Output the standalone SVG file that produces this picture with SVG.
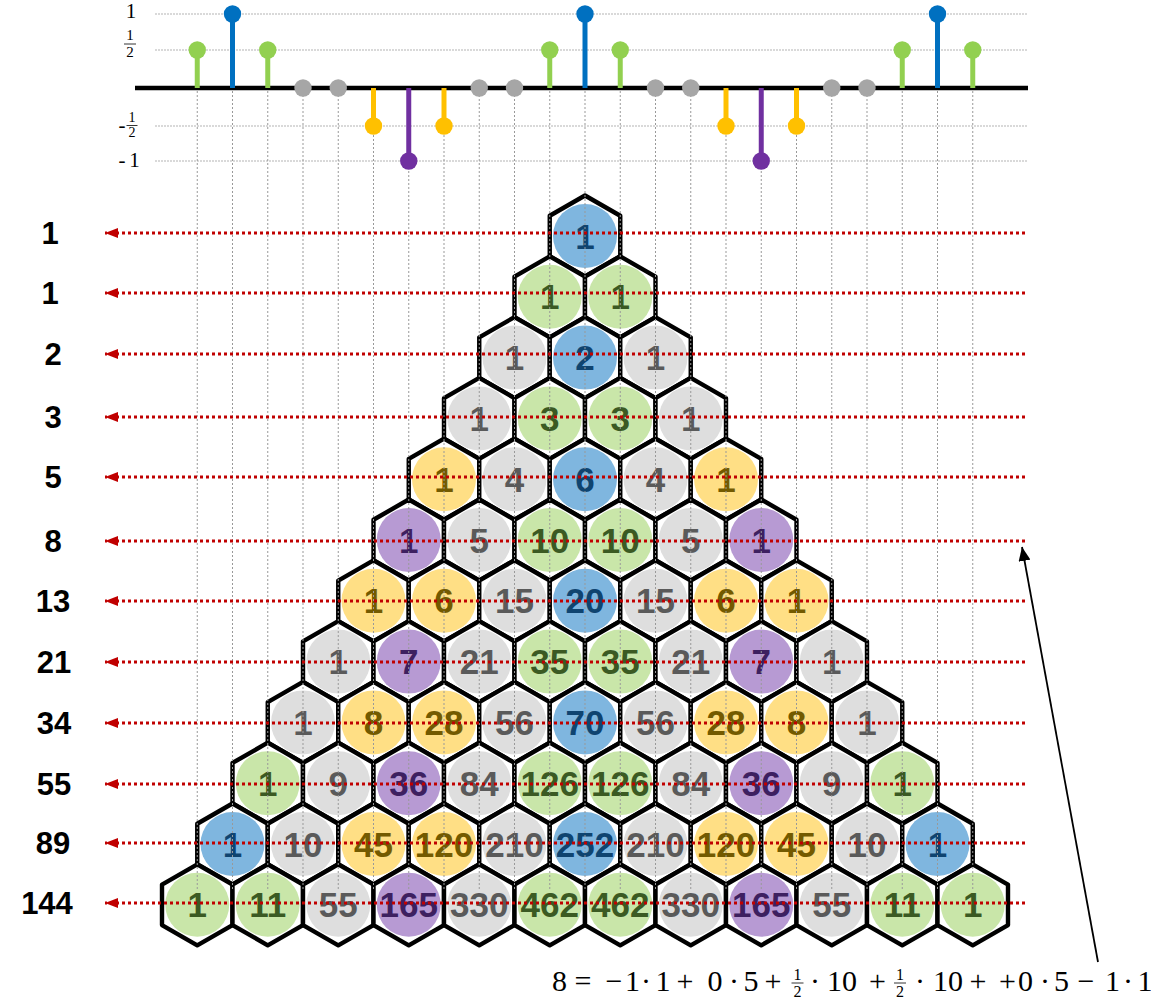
<svg xmlns="http://www.w3.org/2000/svg" xmlns:xlink="http://www.w3.org/1999/xlink" width="1151" height="1002" viewBox="0 0 1151 1002">
<defs>
<style>
.hex{fill:#fff;stroke:#000;stroke-width:4.4;stroke-linejoin:round}
.cell text{font-family:"Liberation Sans",Arial,sans-serif;font-weight:bold;font-size:35px;text-anchor:middle}
.b circle{fill:#7fb6df}.b text{fill:#0f4470}
.g circle{fill:#c9e6a9}.g text{fill:#3b5a23}
.n circle{fill:#dedede}.n text{fill:#5a5a5a}
.y circle{fill:#ffdf85}.y text{fill:#735a00}
.p circle{fill:#b79ad3}.p text{fill:#3d2060}
.vg{stroke:#999;stroke-width:1;stroke-dasharray:2 2}
.hg{stroke:#b4b4b4;stroke-width:1.2;stroke-dasharray:2 1}
.red{stroke:#c00000;stroke-width:3;stroke-dasharray:3 3;fill:none;marker-end:url(#ra)}
.lbl{font-family:"Liberation Sans",Arial,sans-serif;font-weight:bold;font-size:31px;text-anchor:middle;fill:#000}
.ser{font-family:"Liberation Serif","Times New Roman",serif;fill:#000;text-anchor:middle}
.sg{stroke:#92d050;stroke-width:5}.cg{fill:#92d050}
.sb{stroke:#0070c0;stroke-width:5}.cbl{fill:#0070c0}
.sy{stroke:#ffc000;stroke-width:5}.cy{fill:#ffc000}
.sp{stroke:#7030a0;stroke-width:5}.cp{fill:#7030a0}
.cn{fill:#a6a6a6}
</style>
<polygon id="hx" points="0,-40.5 35.25,-20.25 35.25,20.25 0,40.5 -35.25,20.25 -35.25,-20.25"/>
<marker id="ra" markerUnits="userSpaceOnUse" markerWidth="13" markerHeight="10" refX="13" refY="5" orient="auto"><path d="M0,0 L13,5 L0,10 z" fill="#c00000"/></marker>
<marker id="ka" markerUnits="userSpaceOnUse" markerWidth="14" markerHeight="12" refX="14" refY="6" orient="auto"><path d="M0,0 L14,6 L0,12 z" fill="#000"/></marker>
</defs>
<rect width="1151" height="1002" fill="#fff"/>

<!-- stem plot grid -->
<g id="stem-grid">
<line class="hg" x1="155" y1="14" x2="1028" y2="14"/>
<line class="hg" x1="155" y1="50" x2="1028" y2="50"/>
<line class="hg" x1="155" y1="126" x2="1028" y2="126"/>
<line class="hg" x1="155" y1="161" x2="1028" y2="161"/>
</g>
<g id="stem-labels">
<text class="ser" x="131" y="18" font-size="21">1</text>
<text class="ser" x="130" y="40" font-size="15">1</text>
<line x1="124" y1="44" x2="136" y2="44" stroke="#000" stroke-width="0.8"/>
<text class="ser" x="130" y="57" font-size="15">2</text>
<text class="ser" x="122" y="132" font-size="21">-</text>
<text class="ser" x="132" y="122" font-size="14">1</text>
<line x1="126.5" y1="125.5" x2="137.5" y2="125.5" stroke="#000" stroke-width="0.8"/>
<text class="ser" x="132" y="137" font-size="14">2</text>
<text class="ser" x="122" y="167" font-size="21">-</text>
<text class="ser" x="134.5" y="167" font-size="21">1</text>
</g>

<!-- hex cells -->
<g id="cells">
<g id="c0_0" class="cell b" transform="translate(585,236)"><use xlink:href="#hx" class="hex"/><circle r="32"/><text y="12.5">1</text></g>
<g id="c1_0" class="cell g" transform="translate(549.75,296.8)"><use xlink:href="#hx" class="hex"/><circle r="32"/><text y="12.5">1</text></g>
<g id="c1_1" class="cell g" transform="translate(620.25,296.8)"><use xlink:href="#hx" class="hex"/><circle r="32"/><text y="12.5">1</text></g>
<g id="c2_0" class="cell n" transform="translate(514.5,357.6)"><use xlink:href="#hx" class="hex"/><circle r="32"/><text y="12.5">1</text></g>
<g id="c2_1" class="cell b" transform="translate(585,357.6)"><use xlink:href="#hx" class="hex"/><circle r="32"/><text y="12.5">2</text></g>
<g id="c2_2" class="cell n" transform="translate(655.5,357.6)"><use xlink:href="#hx" class="hex"/><circle r="32"/><text y="12.5">1</text></g>
<g id="c3_0" class="cell n" transform="translate(479.25,418.4)"><use xlink:href="#hx" class="hex"/><circle r="32"/><text y="12.5">1</text></g>
<g id="c3_1" class="cell g" transform="translate(549.75,418.4)"><use xlink:href="#hx" class="hex"/><circle r="32"/><text y="12.5">3</text></g>
<g id="c3_2" class="cell g" transform="translate(620.25,418.4)"><use xlink:href="#hx" class="hex"/><circle r="32"/><text y="12.5">3</text></g>
<g id="c3_3" class="cell n" transform="translate(690.75,418.4)"><use xlink:href="#hx" class="hex"/><circle r="32"/><text y="12.5">1</text></g>
<g id="c4_0" class="cell y" transform="translate(444,479.2)"><use xlink:href="#hx" class="hex"/><circle r="32"/><text y="12.5">1</text></g>
<g id="c4_1" class="cell n" transform="translate(514.5,479.2)"><use xlink:href="#hx" class="hex"/><circle r="32"/><text y="12.5">4</text></g>
<g id="c4_2" class="cell b" transform="translate(585,479.2)"><use xlink:href="#hx" class="hex"/><circle r="32"/><text y="12.5">6</text></g>
<g id="c4_3" class="cell n" transform="translate(655.5,479.2)"><use xlink:href="#hx" class="hex"/><circle r="32"/><text y="12.5">4</text></g>
<g id="c4_4" class="cell y" transform="translate(726,479.2)"><use xlink:href="#hx" class="hex"/><circle r="32"/><text y="12.5">1</text></g>
<g id="c5_0" class="cell p" transform="translate(408.75,540)"><use xlink:href="#hx" class="hex"/><circle r="32"/><text y="12.5">1</text></g>
<g id="c5_1" class="cell n" transform="translate(479.25,540)"><use xlink:href="#hx" class="hex"/><circle r="32"/><text y="12.5">5</text></g>
<g id="c5_2" class="cell g" transform="translate(549.75,540)"><use xlink:href="#hx" class="hex"/><circle r="32"/><text y="12.5">10</text></g>
<g id="c5_3" class="cell g" transform="translate(620.25,540)"><use xlink:href="#hx" class="hex"/><circle r="32"/><text y="12.5">10</text></g>
<g id="c5_4" class="cell n" transform="translate(690.75,540)"><use xlink:href="#hx" class="hex"/><circle r="32"/><text y="12.5">5</text></g>
<g id="c5_5" class="cell p" transform="translate(761.25,540)"><use xlink:href="#hx" class="hex"/><circle r="32"/><text y="12.5">1</text></g>
<g id="c6_0" class="cell y" transform="translate(373.5,600.8)"><use xlink:href="#hx" class="hex"/><circle r="32"/><text y="12.5">1</text></g>
<g id="c6_1" class="cell y" transform="translate(444,600.8)"><use xlink:href="#hx" class="hex"/><circle r="32"/><text y="12.5">6</text></g>
<g id="c6_2" class="cell n" transform="translate(514.5,600.8)"><use xlink:href="#hx" class="hex"/><circle r="32"/><text y="12.5">15</text></g>
<g id="c6_3" class="cell b" transform="translate(585,600.8)"><use xlink:href="#hx" class="hex"/><circle r="32"/><text y="12.5">20</text></g>
<g id="c6_4" class="cell n" transform="translate(655.5,600.8)"><use xlink:href="#hx" class="hex"/><circle r="32"/><text y="12.5">15</text></g>
<g id="c6_5" class="cell y" transform="translate(726,600.8)"><use xlink:href="#hx" class="hex"/><circle r="32"/><text y="12.5">6</text></g>
<g id="c6_6" class="cell y" transform="translate(796.5,600.8)"><use xlink:href="#hx" class="hex"/><circle r="32"/><text y="12.5">1</text></g>
<g id="c7_0" class="cell n" transform="translate(338.25,661.6)"><use xlink:href="#hx" class="hex"/><circle r="32"/><text y="12.5">1</text></g>
<g id="c7_1" class="cell p" transform="translate(408.75,661.6)"><use xlink:href="#hx" class="hex"/><circle r="32"/><text y="12.5">7</text></g>
<g id="c7_2" class="cell n" transform="translate(479.25,661.6)"><use xlink:href="#hx" class="hex"/><circle r="32"/><text y="12.5">21</text></g>
<g id="c7_3" class="cell g" transform="translate(549.75,661.6)"><use xlink:href="#hx" class="hex"/><circle r="32"/><text y="12.5">35</text></g>
<g id="c7_4" class="cell g" transform="translate(620.25,661.6)"><use xlink:href="#hx" class="hex"/><circle r="32"/><text y="12.5">35</text></g>
<g id="c7_5" class="cell n" transform="translate(690.75,661.6)"><use xlink:href="#hx" class="hex"/><circle r="32"/><text y="12.5">21</text></g>
<g id="c7_6" class="cell p" transform="translate(761.25,661.6)"><use xlink:href="#hx" class="hex"/><circle r="32"/><text y="12.5">7</text></g>
<g id="c7_7" class="cell n" transform="translate(831.75,661.6)"><use xlink:href="#hx" class="hex"/><circle r="32"/><text y="12.5">1</text></g>
<g id="c8_0" class="cell n" transform="translate(303,722.4)"><use xlink:href="#hx" class="hex"/><circle r="32"/><text y="12.5">1</text></g>
<g id="c8_1" class="cell y" transform="translate(373.5,722.4)"><use xlink:href="#hx" class="hex"/><circle r="32"/><text y="12.5">8</text></g>
<g id="c8_2" class="cell y" transform="translate(444,722.4)"><use xlink:href="#hx" class="hex"/><circle r="32"/><text y="12.5">28</text></g>
<g id="c8_3" class="cell n" transform="translate(514.5,722.4)"><use xlink:href="#hx" class="hex"/><circle r="32"/><text y="12.5">56</text></g>
<g id="c8_4" class="cell b" transform="translate(585,722.4)"><use xlink:href="#hx" class="hex"/><circle r="32"/><text y="12.5">70</text></g>
<g id="c8_5" class="cell n" transform="translate(655.5,722.4)"><use xlink:href="#hx" class="hex"/><circle r="32"/><text y="12.5">56</text></g>
<g id="c8_6" class="cell y" transform="translate(726,722.4)"><use xlink:href="#hx" class="hex"/><circle r="32"/><text y="12.5">28</text></g>
<g id="c8_7" class="cell y" transform="translate(796.5,722.4)"><use xlink:href="#hx" class="hex"/><circle r="32"/><text y="12.5">8</text></g>
<g id="c8_8" class="cell n" transform="translate(867,722.4)"><use xlink:href="#hx" class="hex"/><circle r="32"/><text y="12.5">1</text></g>
<g id="c9_0" class="cell g" transform="translate(267.75,783.2)"><use xlink:href="#hx" class="hex"/><circle r="32"/><text y="12.5">1</text></g>
<g id="c9_1" class="cell n" transform="translate(338.25,783.2)"><use xlink:href="#hx" class="hex"/><circle r="32"/><text y="12.5">9</text></g>
<g id="c9_2" class="cell p" transform="translate(408.75,783.2)"><use xlink:href="#hx" class="hex"/><circle r="32"/><text y="12.5">36</text></g>
<g id="c9_3" class="cell n" transform="translate(479.25,783.2)"><use xlink:href="#hx" class="hex"/><circle r="32"/><text y="12.5">84</text></g>
<g id="c9_4" class="cell g" transform="translate(549.75,783.2)"><use xlink:href="#hx" class="hex"/><circle r="32"/><text y="12.5">126</text></g>
<g id="c9_5" class="cell g" transform="translate(620.25,783.2)"><use xlink:href="#hx" class="hex"/><circle r="32"/><text y="12.5">126</text></g>
<g id="c9_6" class="cell n" transform="translate(690.75,783.2)"><use xlink:href="#hx" class="hex"/><circle r="32"/><text y="12.5">84</text></g>
<g id="c9_7" class="cell p" transform="translate(761.25,783.2)"><use xlink:href="#hx" class="hex"/><circle r="32"/><text y="12.5">36</text></g>
<g id="c9_8" class="cell n" transform="translate(831.75,783.2)"><use xlink:href="#hx" class="hex"/><circle r="32"/><text y="12.5">9</text></g>
<g id="c9_9" class="cell g" transform="translate(902.25,783.2)"><use xlink:href="#hx" class="hex"/><circle r="32"/><text y="12.5">1</text></g>
<g id="c10_0" class="cell b" transform="translate(232.5,844)"><use xlink:href="#hx" class="hex"/><circle r="32"/><text y="12.5">1</text></g>
<g id="c10_1" class="cell n" transform="translate(303,844)"><use xlink:href="#hx" class="hex"/><circle r="32"/><text y="12.5">10</text></g>
<g id="c10_2" class="cell y" transform="translate(373.5,844)"><use xlink:href="#hx" class="hex"/><circle r="32"/><text y="12.5">45</text></g>
<g id="c10_3" class="cell y" transform="translate(444,844)"><use xlink:href="#hx" class="hex"/><circle r="32"/><text y="12.5">120</text></g>
<g id="c10_4" class="cell n" transform="translate(514.5,844)"><use xlink:href="#hx" class="hex"/><circle r="32"/><text y="12.5">210</text></g>
<g id="c10_5" class="cell b" transform="translate(585,844)"><use xlink:href="#hx" class="hex"/><circle r="32"/><text y="12.5">252</text></g>
<g id="c10_6" class="cell n" transform="translate(655.5,844)"><use xlink:href="#hx" class="hex"/><circle r="32"/><text y="12.5">210</text></g>
<g id="c10_7" class="cell y" transform="translate(726,844)"><use xlink:href="#hx" class="hex"/><circle r="32"/><text y="12.5">120</text></g>
<g id="c10_8" class="cell y" transform="translate(796.5,844)"><use xlink:href="#hx" class="hex"/><circle r="32"/><text y="12.5">45</text></g>
<g id="c10_9" class="cell n" transform="translate(867,844)"><use xlink:href="#hx" class="hex"/><circle r="32"/><text y="12.5">10</text></g>
<g id="c10_10" class="cell b" transform="translate(937.5,844)"><use xlink:href="#hx" class="hex"/><circle r="32"/><text y="12.5">1</text></g>
<g id="c11_0" class="cell g" transform="translate(197.25,904.8)"><use xlink:href="#hx" class="hex"/><circle r="32"/><text y="12.5">1</text></g>
<g id="c11_1" class="cell g" transform="translate(267.75,904.8)"><use xlink:href="#hx" class="hex"/><circle r="32"/><text y="12.5">11</text></g>
<g id="c11_2" class="cell n" transform="translate(338.25,904.8)"><use xlink:href="#hx" class="hex"/><circle r="32"/><text y="12.5">55</text></g>
<g id="c11_3" class="cell p" transform="translate(408.75,904.8)"><use xlink:href="#hx" class="hex"/><circle r="32"/><text y="12.5">165</text></g>
<g id="c11_4" class="cell n" transform="translate(479.25,904.8)"><use xlink:href="#hx" class="hex"/><circle r="32"/><text y="12.5">330</text></g>
<g id="c11_5" class="cell g" transform="translate(549.75,904.8)"><use xlink:href="#hx" class="hex"/><circle r="32"/><text y="12.5">462</text></g>
<g id="c11_6" class="cell g" transform="translate(620.25,904.8)"><use xlink:href="#hx" class="hex"/><circle r="32"/><text y="12.5">462</text></g>
<g id="c11_7" class="cell n" transform="translate(690.75,904.8)"><use xlink:href="#hx" class="hex"/><circle r="32"/><text y="12.5">330</text></g>
<g id="c11_8" class="cell p" transform="translate(761.25,904.8)"><use xlink:href="#hx" class="hex"/><circle r="32"/><text y="12.5">165</text></g>
<g id="c11_9" class="cell n" transform="translate(831.75,904.8)"><use xlink:href="#hx" class="hex"/><circle r="32"/><text y="12.5">55</text></g>
<g id="c11_10" class="cell g" transform="translate(902.25,904.8)"><use xlink:href="#hx" class="hex"/><circle r="32"/><text y="12.5">11</text></g>
<g id="c11_11" class="cell g" transform="translate(972.75,904.8)"><use xlink:href="#hx" class="hex"/><circle r="32"/><text y="12.5">1</text></g>
</g>

<!-- vertical grid lines -->
<g id="vgrid">
<line class="vg" x1="197.25" y1="91" x2="197.25" y2="890"/>
<line class="vg" x1="232.5" y1="91" x2="232.5" y2="890"/>
<line class="vg" x1="267.75" y1="91" x2="267.75" y2="890"/>
<line class="vg" x1="303" y1="91" x2="303" y2="890"/>
<line class="vg" x1="338.25" y1="91" x2="338.25" y2="890"/>
<line class="vg" x1="373.5" y1="91" x2="373.5" y2="890"/>
<line class="vg" x1="408.75" y1="91" x2="408.75" y2="890"/>
<line class="vg" x1="444" y1="91" x2="444" y2="890"/>
<line class="vg" x1="479.25" y1="91" x2="479.25" y2="890"/>
<line class="vg" x1="514.5" y1="91" x2="514.5" y2="890"/>
<line class="vg" x1="549.75" y1="91" x2="549.75" y2="890"/>
<line class="vg" x1="585" y1="91" x2="585" y2="890"/>
<line class="vg" x1="620.25" y1="91" x2="620.25" y2="890"/>
<line class="vg" x1="655.5" y1="91" x2="655.5" y2="890"/>
<line class="vg" x1="690.75" y1="91" x2="690.75" y2="890"/>
<line class="vg" x1="726" y1="91" x2="726" y2="890"/>
<line class="vg" x1="761.25" y1="91" x2="761.25" y2="890"/>
<line class="vg" x1="796.5" y1="91" x2="796.5" y2="890"/>
<line class="vg" x1="831.75" y1="91" x2="831.75" y2="890"/>
<line class="vg" x1="867" y1="91" x2="867" y2="890"/>
<line class="vg" x1="902.25" y1="91" x2="902.25" y2="890"/>
<line class="vg" x1="937.5" y1="91" x2="937.5" y2="890"/>
<line class="vg" x1="972.75" y1="91" x2="972.75" y2="890"/>
</g>

<!-- stem plot -->
<g id="stems">
<line x1="135" y1="88" x2="1028" y2="88" stroke="#000" stroke-width="4.5"/>
<line class="sg" x1="197.25" y1="88" x2="197.25" y2="50"/><circle class="cg" cx="197.25" cy="50" r="8.7"/>
<line class="sb" x1="232.5" y1="88" x2="232.5" y2="14"/><circle class="cbl" cx="232.5" cy="14" r="8.7"/>
<line class="sg" x1="267.75" y1="88" x2="267.75" y2="50"/><circle class="cg" cx="267.75" cy="50" r="8.7"/>
<circle class="cn" cx="303" cy="88" r="8.7"/>
<circle class="cn" cx="338.25" cy="88" r="8.7"/>
<line class="sy" x1="373.5" y1="88" x2="373.5" y2="126"/><circle class="cy" cx="373.5" cy="126" r="8.7"/>
<line class="sp" x1="408.75" y1="88" x2="408.75" y2="161"/><circle class="cp" cx="408.75" cy="161" r="8.7"/>
<line class="sy" x1="444" y1="88" x2="444" y2="126"/><circle class="cy" cx="444" cy="126" r="8.7"/>
<circle class="cn" cx="479.25" cy="88" r="8.7"/>
<circle class="cn" cx="514.5" cy="88" r="8.7"/>
<line class="sg" x1="549.75" y1="88" x2="549.75" y2="50"/><circle class="cg" cx="549.75" cy="50" r="8.7"/>
<line class="sb" x1="585" y1="88" x2="585" y2="14"/><circle class="cbl" cx="585" cy="14" r="8.7"/>
<line class="sg" x1="620.25" y1="88" x2="620.25" y2="50"/><circle class="cg" cx="620.25" cy="50" r="8.7"/>
<circle class="cn" cx="655.5" cy="88" r="8.7"/>
<circle class="cn" cx="690.75" cy="88" r="8.7"/>
<line class="sy" x1="726" y1="88" x2="726" y2="126"/><circle class="cy" cx="726" cy="126" r="8.7"/>
<line class="sp" x1="761.25" y1="88" x2="761.25" y2="161"/><circle class="cp" cx="761.25" cy="161" r="8.7"/>
<line class="sy" x1="796.5" y1="88" x2="796.5" y2="126"/><circle class="cy" cx="796.5" cy="126" r="8.7"/>
<circle class="cn" cx="831.75" cy="88" r="8.7"/>
<circle class="cn" cx="867" cy="88" r="8.7"/>
<line class="sg" x1="902.25" y1="88" x2="902.25" y2="50"/><circle class="cg" cx="902.25" cy="50" r="8.7"/>
<line class="sb" x1="937.5" y1="88" x2="937.5" y2="14"/><circle class="cbl" cx="937.5" cy="14" r="8.7"/>
<line class="sg" x1="972.75" y1="88" x2="972.75" y2="50"/><circle class="cg" cx="972.75" cy="50" r="8.7"/>
</g>

<!-- connectors -->
<g id="connectors">
<path class="red" d="M1025,233 H105"/>
<path class="red" d="M1025,293 H105"/>
<path class="red" d="M1025,354 H105"/>
<path class="red" d="M1025,417 H105"/>
<path class="red" d="M1025,477 H105"/>
<path class="red" d="M1025,541 H105"/>
<path class="red" d="M1025,601 H105"/>
<path class="red" d="M1025,662 H105"/>
<path class="red" d="M1025,723 H105"/>
<path class="red" d="M1025,784 H105"/>
<path class="red" d="M1025,843 H105"/>
<path class="red" d="M1025,903 H105"/>
<line x1="1098" y1="962" x2="1022" y2="547" stroke="#000" stroke-width="1.8" marker-end="url(#ka)"/>
</g>

<!-- row sums -->
<g id="sums">
<text class="lbl" x="50" y="244">1</text>
<text class="lbl" x="50" y="304">1</text>
<text class="lbl" x="53" y="365">2</text>
<text class="lbl" x="53" y="428">3</text>
<text class="lbl" x="53" y="488">5</text>
<text class="lbl" x="53" y="552">8</text>
<text class="lbl" x="53" y="612">13</text>
<text class="lbl" x="54" y="673">21</text>
<text class="lbl" x="54" y="734">34</text>
<text class="lbl" x="54" y="795">55</text>
<text class="lbl" x="53" y="854">89</text>
<text class="lbl" x="47" y="914">144</text>
</g>

<!-- formula -->
<g id="formula">
<text class="ser" font-size="30" y="991"><tspan x="559.5">8</tspan><tspan x="583">=</tspan><tspan x="614">−</tspan><tspan x="632.5">1</tspan><tspan x="646">·</tspan><tspan x="663">1</tspan><tspan x="685">+</tspan><tspan x="715">0</tspan><tspan x="734">·</tspan><tspan x="751">5</tspan><tspan x="773">+</tspan><tspan x="815">·</tspan><tspan x="842">10</tspan><tspan x="877.5">+</tspan><tspan x="920">·</tspan><tspan x="948">10</tspan><tspan x="978">+</tspan><tspan x="1007.5">+</tspan><tspan x="1025.5">0</tspan><tspan x="1045">·</tspan><tspan x="1061.5">5</tspan><tspan x="1086">−</tspan><tspan x="1112.5">1</tspan><tspan x="1128">·</tspan><tspan x="1145">1</tspan></text>
<text class="ser" font-size="16" x="797.5" y="980">1</text>
<line x1="791.5" y1="983" x2="803.5" y2="983" stroke="#000" stroke-width="0.8"/>
<text class="ser" font-size="16" x="797.5" y="997">2</text>
<text class="ser" font-size="16" x="900" y="980">1</text>
<line x1="894" y1="983" x2="906" y2="983" stroke="#000" stroke-width="0.8"/>
<text class="ser" font-size="16" x="900" y="997">2</text>
</g>
</svg>
